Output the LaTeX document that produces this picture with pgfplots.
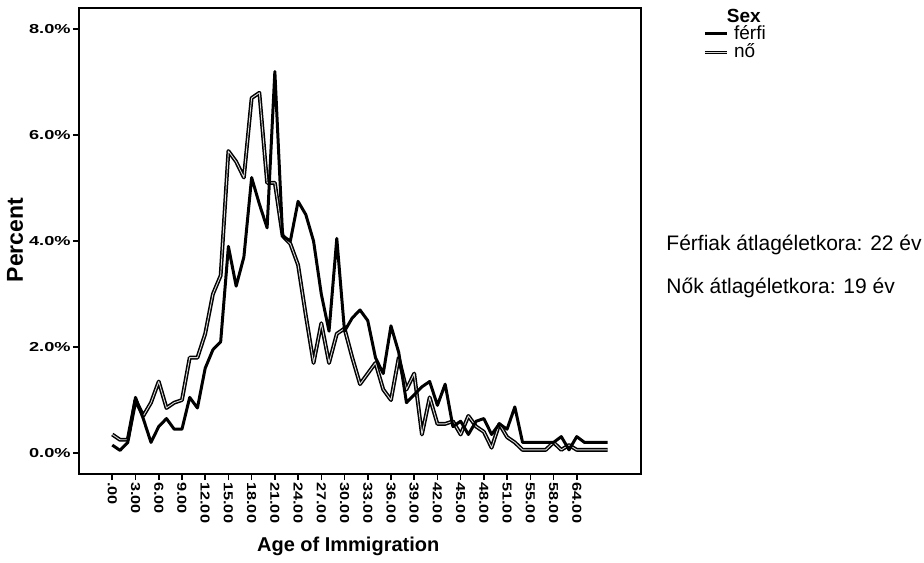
\documentclass[border=0pt]{standalone}
\usepackage{pgfplots}
\pgfplotsset{compat=1.18}
\usepackage{graphicx}
\usepackage{fontspec}
\setmainfont{Liberation Sans}
\usetikzlibrary{calc}
\newcommand{\ytl}[1]{\scalebox{1.4}[1]{\fontsize{6.5}{7}\selectfont\bfseries #1}}
\newcommand{\xtl}[1]{\scalebox{1.25}[1]{\fontsize{6.5}{7}\selectfont\bfseries #1}}
\pgfplotstableread{
i F M
0 0.35 0.15
1 0.25 0.05
2 0.25 0.20
3 1.00 1.05
4 0.70 0.65
5 0.95 0.20
6 1.35 0.50
7 0.85 0.65
8 0.95 0.45
9 1.00 0.45
10 1.80 1.05
11 1.80 0.85
12 2.25 1.60
13 3.00 1.95
14 3.35 2.10
15 5.70 3.90
16 5.50 3.15
17 5.20 3.70
18 6.70 5.20
19 6.80 4.70
20 5.10 4.25
21 5.10 7.20
22 4.10 4.10
23 3.95 4.00
24 3.55 4.75
25 2.60 4.50
26 1.70 4.00
27 2.45 3.00
28 1.70 2.30
29 2.25 4.05
30 2.35 2.30
31 1.80 2.55
32 1.30 2.70
33 1.50 2.50
34 1.70 1.80
35 1.20 1.50
36 1.00 2.40
37 1.80 1.90
38 1.20 0.95
39 1.50 1.10
40 0.35 1.25
41 1.05 1.35
42 0.55 0.90
43 0.55 1.30
44 0.60 0.50
45 0.35 0.60
46 0.70 0.35
47 0.50 0.60
48 0.40 0.65
49 0.10 0.35
50 0.55 0.55
51 0.30 0.45
52 0.20 0.87
53 0.06 0.20
54 0.06 0.20
55 0.06 0.20
56 0.06 0.20
57 0.20 0.20
58 0.06 0.31
59 0.15 0.06
60 0.06 0.31
61 0.06 0.20
62 0.06 0.20
63 0.06 0.20
64 0.06 0.20
}\data
\begin{document}
\begin{tikzpicture}
\useasboundingbox (0,0) rectangle (462pt,281pt);
\begin{axis}[
  at={(39.5pt,44pt)}, anchor=south west,
  scale only axis, width=281pt, height=233pt,
  xmin=-4.3, xmax=68.3, ymin=-0.396, ymax=8.40,
  clip=false,
  axis line style={line width=0.9pt},
  tick align=outside, xtick pos=bottom, ytick pos=left,
  major tick length=3pt,
  tick style={black, line width=0.8pt},
  ytick={0,2,4,6,8},
  yticklabels={\ytl{0.0\%},\ytl{2.0\%},\ytl{4.0\%},\ytl{6.0\%},\ytl{8.0\%}},
  yticklabel style={inner sep=1pt},
  xtick={0,3,...,60},
  xticklabels={\xtl{.00},\xtl{3.00},\xtl{6.00},\xtl{9.00},\xtl{12.00},\xtl{15.00},\xtl{18.00},\xtl{21.00},\xtl{24.00},\xtl{27.00},\xtl{30.00},\xtl{33.00},\xtl{36.00},\xtl{39.00},\xtl{42.00},\xtl{45.00},\xtl{48.00},\xtl{51.00},\xtl{55.00},\xtl{58.00},\xtl{64.00}},
  xticklabel style={rotate=-90, anchor=west, inner sep=1pt},
  legend style={at={(rel axis cs:1.11,0.966)}, anchor=north west, draw=none, fill=none,
    font=\fontsize{9.5}{10}\selectfont, inner sep=0pt, row sep=0pt,
    nodes={inner sep=0.4pt},
    /tikz/every odd column/.append style={column sep=2.5pt}},
  legend cell align=left,
  legend image code/.code={\draw[#1] (0pt,0pt) -- (11pt,0pt);},
]
\addplot[black, line width=0.75pt, double=gray!30, double distance=0.45pt, line join=round, forget plot] table[x=i,y=F]{\data};
\addplot[black, line width=1.5pt, line join=round, forget plot] table[x=i,y=M]{\data};
\addlegendimage{black, line width=1.1pt}
\addlegendentry{férfi}
\addlegendimage{black, line width=0.55pt, double=gray!30, double distance=0.45pt}
\addlegendentry{nő}
\node[font=\fontsize{9.5}{10}\selectfont\bfseries] at (rel axis cs:1.183,0.983) {Sex};
\node[anchor=west, inner sep=0pt, font=\fontsize{10.5}{12}\selectfont] at (rel axis cs:1.0445,0.491) {Férfiak átlagéletkora: 22 év};
\node[anchor=west, inner sep=0pt, font=\fontsize{10.5}{12}\selectfont] at (rel axis cs:1.0445,0.399) {Nők átlagéletkora: 19 év};
\node[rotate=90, font=\fontsize{11.5}{12}\selectfont\bfseries] at ($(rel axis cs:0,0.502)+(-32pt,0pt)$) {Percent};
\node[font=\fontsize{10}{12}\selectfont\bfseries] at ($(rel axis cs:0.479,0)+(0pt,-36pt)$) {Age of Immigration};
\end{axis}
\end{tikzpicture}
\end{document}
